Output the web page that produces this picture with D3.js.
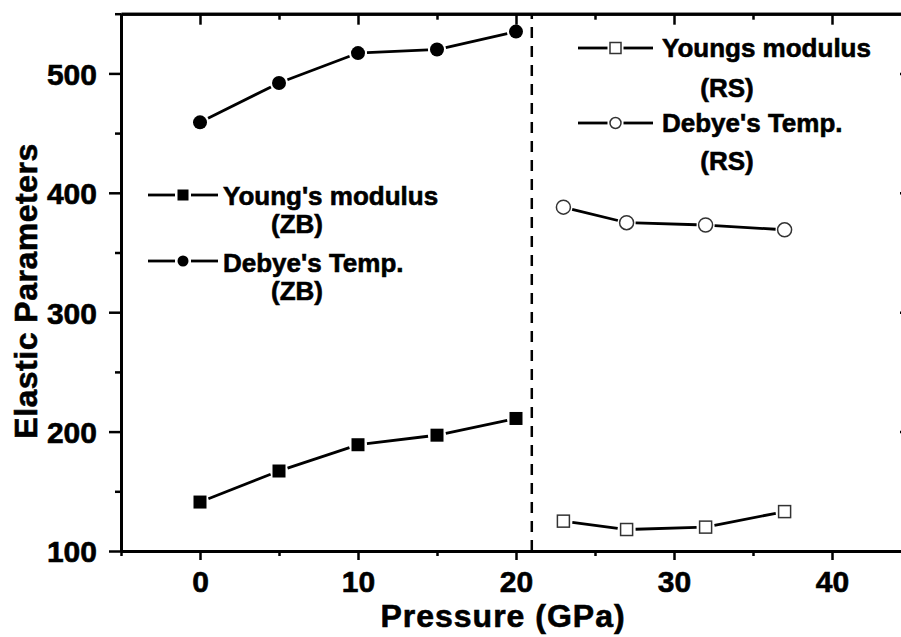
<!DOCTYPE html>
<meta charset="utf-8">
<style>
body { margin: 0; background: #fff; }
text { font-family: "Liberation Sans", Arial, sans-serif; font-weight: bold; fill: #000; stroke: #000; stroke-width: 0.6px; }
.axis path, .axis line { stroke: #000; }
.data { fill: none; stroke: #000; stroke-width: 2.8px; }
</style>
<body>
<script src="https://d3js.org/d3.v7.min.js"></script>
<script>

// data
var pressureZB = [0, 5, 10, 15, 20];
var youngZB = [141, 167, 189, 197, 211];
var debyeZB = [459, 492, 517, 520, 535];
var pressureRS = [23, 27, 32, 37];
var youngRS = [125, 118, 120, 133];
var debyeRS = [388, 375, 373, 369];
var transitionP = 21;

var xMajor = [0, 10, 20, 30, 40];
var xMinor = [-5, 5, 15, 25, 35, 45];
var yMajor = [100, 200, 300, 400, 500];
var yMinor = [150, 250, 350, 450, 550];

var W = 901, H = 637;

var x = d3.scaleLinear().domain([-5, 45]).range([121, 911]);
var y = d3.scaleLinear().domain([100, 550]).range([551, 13.7]);

var svg = d3.select("body").append("svg")
    .attr("width", W)
    .attr("height", H);

// axes: major + minor ticks, mirrored on top / right
function styleAxis(g) {
  g.attr("class", "axis");
  g.select(".domain").attr("stroke-width", 3);
  g.selectAll(".tick line").attr("stroke-width", 2.5);
}

svg.append("g")
    .attr("transform", "translate(0," + y(100) + ")")
    .call(d3.axisBottom(x).tickValues(xMinor).tickSize(5).tickSizeOuter(0).tickFormat(""))
    .call(styleAxis);
var xb = svg.append("g")
    .attr("transform", "translate(0," + y(100) + ")")
    .call(d3.axisBottom(x).tickValues(xMajor).tickSize(9).tickSizeOuter(0))
    .call(styleAxis);
xb.selectAll("text").attr("y", 41).attr("dy", 0).style("font-size", "30px");

svg.append("g")
    .attr("transform", "translate(" + x(-5) + ",0)")
    .call(d3.axisLeft(y).tickValues(yMinor).tickSize(6).tickSizeOuter(0).tickFormat(""))
    .call(styleAxis);
var yl = svg.append("g")
    .attr("transform", "translate(" + x(-5) + ",0)")
    .call(d3.axisLeft(y).tickValues(yMajor).tickSize(12).tickSizeOuter(0))
    .call(styleAxis);
yl.selectAll("text").attr("x", -24).attr("dy", "0.36em").style("font-size", "30px");

svg.append("g")
    .attr("transform", "translate(0," + y(550) + ")")
    .call(d3.axisTop(x).tickValues(xMinor).tickSize(-6).tickSizeOuter(0).tickFormat(""))
    .call(styleAxis);
svg.append("g")
    .attr("transform", "translate(0," + y(550) + ")")
    .call(d3.axisTop(x).tickValues(xMajor).tickSize(-11).tickSizeOuter(0).tickFormat(""))
    .call(styleAxis);
svg.append("g")
    .attr("transform", "translate(" + x(45) + ",0)")
    .call(d3.axisRight(y).tickValues(yMinor).tickSize(-6).tickSizeOuter(0).tickFormat(""))
    .call(styleAxis);
svg.append("g")
    .attr("transform", "translate(" + x(45) + ",0)")
    .call(d3.axisRight(y).tickValues(yMajor).tickSize(-11).tickSizeOuter(0).tickFormat(""))
    .call(styleAxis);

// axis titles
svg.append("text")
    .attr("x", 503).attr("y", 627)
    .attr("text-anchor", "middle")
    .style("font-size", "32px").style("letter-spacing", "1px")
    .text("Pressure (GPa)");
svg.append("text")
    .attr("transform", "translate(37,291) rotate(-90)")
    .attr("text-anchor", "middle")
    .style("font-size", "32px").style("letter-spacing", "0.5px")
    .text("Elastic Parameters");

// phase transition line
svg.append("line")
    .attr("x1", x(transitionP)).attr("x2", x(transitionP))
    .attr("y1", y(100)).attr("y2", y(550))
    .attr("stroke", "#000").attr("stroke-width", 2.5)
    .attr("stroke-dasharray", "11,8");

// connecting lines, with a small gap at each marker (Origin style)
function drawSeries(xs, ys, gap) {
  var pts = xs.map(function(d, i) { return [x(d), y(ys[i])]; });
  for (var i = 0; i < pts.length - 1; i++) {
    var a = pts[i], b = pts[i + 1];
    var dx = b[0] - a[0], dy = b[1] - a[1], len = Math.sqrt(dx * dx + dy * dy);
    var ux = dx / len, uy = dy / len;
    svg.append("line").attr("class", "data")
        .attr("x1", a[0] + ux * gap).attr("y1", a[1] + uy * gap)
        .attr("x2", b[0] - ux * gap).attr("y2", b[1] - uy * gap);
  }
  return pts;
}

function square(g, cx, cy, s, filled) {
  g.append("rect")
      .attr("x", cx - s / 2).attr("y", cy - s / 2)
      .attr("width", s).attr("height", s)
      .attr("fill", filled ? "#000" : "#fff")
      .attr("stroke", filled ? "none" : "#333")
      .attr("stroke-width", 1.5);
}
function circle(g, cx, cy, r, filled) {
  g.append("circle")
      .attr("cx", cx).attr("cy", cy).attr("r", r)
      .attr("fill", filled ? "#000" : "#fff")
      .attr("stroke", filled ? "none" : "#333")
      .attr("stroke-width", 1.5);
}

drawSeries(pressureZB, youngZB, 9).forEach(function(p) { square(svg, p[0], p[1], 13, true); });
drawSeries(pressureZB, debyeZB, 9).forEach(function(p) { circle(svg, p[0], p[1], 7, true); });
drawSeries(pressureRS, youngRS, 9).forEach(function(p) { square(svg, p[0], p[1], 12, false); });
drawSeries(pressureRS, debyeRS, 9).forEach(function(p) { circle(svg, p[0], p[1], 7, false); });

// legends
var legendZB = [
  {label: "Young's modulus", sub: "(ZB)", shape: "square", filled: true, ly: 195, ty: 205, sy: 233},
  {label: "Debye's Temp.", sub: "(ZB)", shape: "circle", filled: true, ly: 261, ty: 272, sy: 300}
];
var legendRS = [
  {label: "Youngs modulus", sub: "(RS)", shape: "square", filled: false, ly: 48, ty: 57, sy: 97},
  {label: "Debye's Temp.", sub: "(RS)", shape: "circle", filled: false, ly: 123, ty: 132, sy: 170}
];

function drawLegend(items, x0, x1, tx, sx) {
  var g = svg.append("g");
  items.forEach(function(d) {
    var mx = (x0 + x1) / 2;
    g.append("line").attr("class", "data").attr("x1", x0).attr("x2", mx - 8).attr("y1", d.ly).attr("y2", d.ly);
    g.append("line").attr("class", "data").attr("x1", mx + 8).attr("x2", x1).attr("y1", d.ly).attr("y2", d.ly);
    if (d.shape === "square") square(g, mx, d.ly, 11, d.filled);
    else circle(g, mx, d.ly, 5.5, d.filled);
    g.append("text").attr("x", tx).attr("y", d.ty)
        .style("font-size", "26px").text(d.label);
    g.append("text").attr("x", sx).attr("y", d.sy)
        .attr("text-anchor", "middle")
        .style("font-size", "26px").text(d.sub);
  });
}
drawLegend(legendZB, 148, 218, 223, 297);
drawLegend(legendRS, 578, 653, 662, 727);

</script>
</body>
